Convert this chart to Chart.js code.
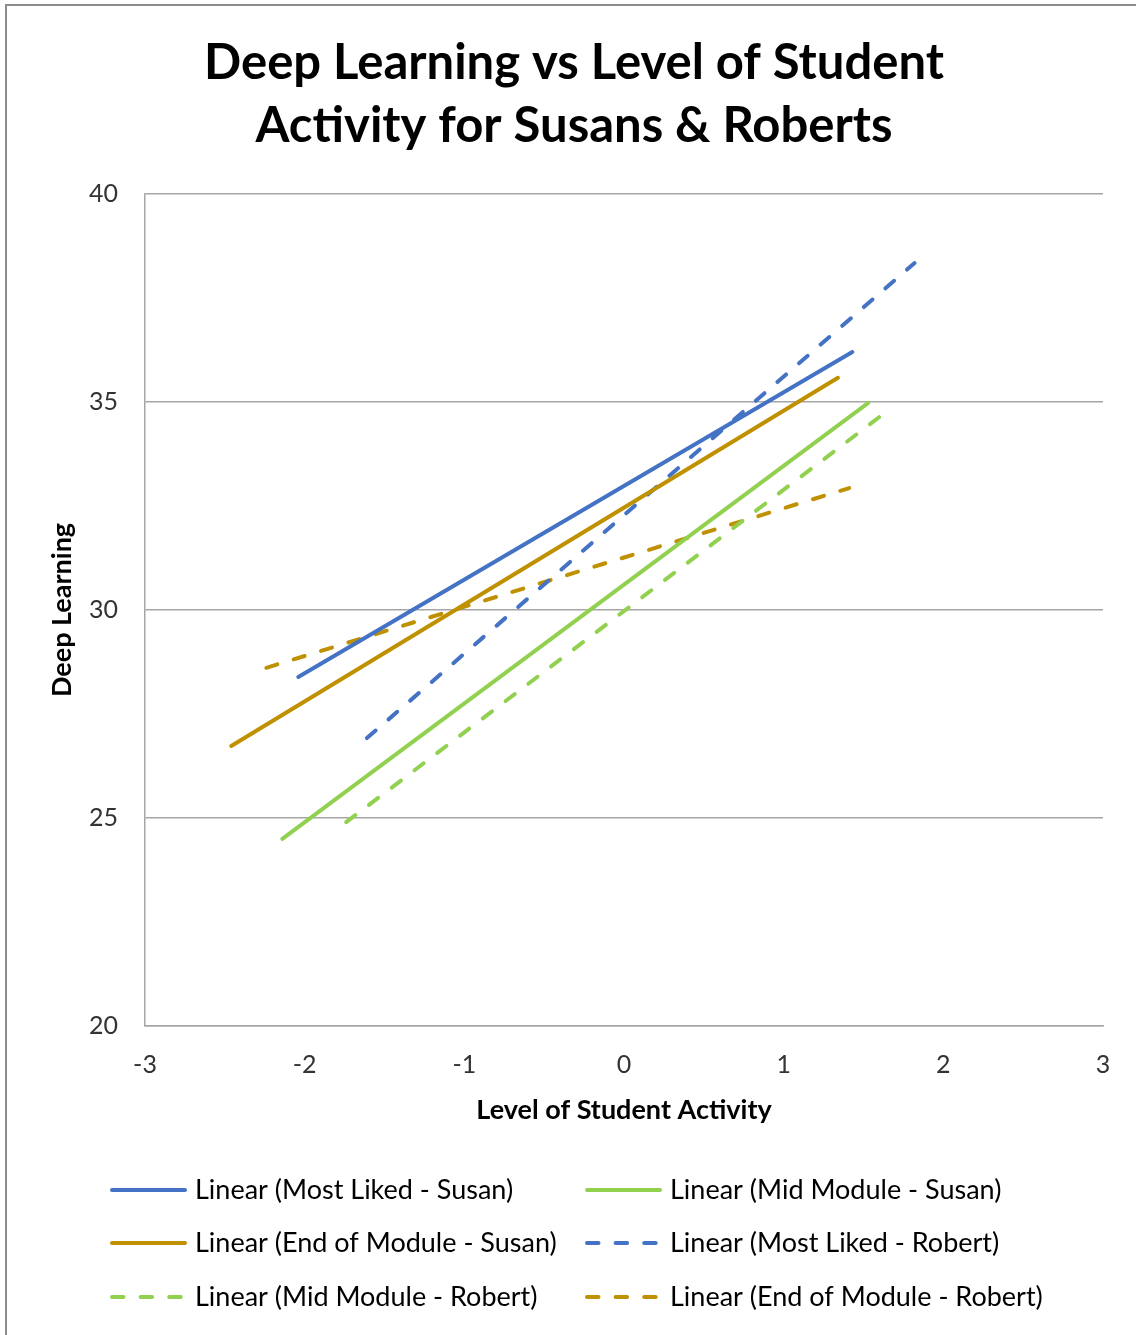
<!DOCTYPE html>
<html>
<head>
<meta charset="utf-8">
<title>Deep Learning vs Level of Student Activity</title>
<script src="https://cdn.jsdelivr.net/npm/chart.js@4/dist/chart.umd.min.js"></script>
<style>
  html, body { margin: 0; padding: 0; background: #fff; }
  #wrap { width: 1136px; height: 1335px; }
</style>
</head>
<body>
<div id="wrap"><canvas id="trendChart" width="1136" height="1335"></canvas></div>
<script>
// trend lines: start and end point of each fitted line
const seriesNames = [
  'Linear (Most Liked - Susan)',
  'Linear (Mid Module - Susan)',
  'Linear (End of Module - Susan)',
  'Linear (Most Liked - Robert)',
  'Linear (Mid Module - Robert)',
  'Linear (End of Module - Robert)'
];
const xStart = [-2.04, -2.14, -2.46, -1.61, -1.74, -2.24];
const yStart = [28.39, 24.50, 26.73, 26.92, 24.90, 28.61];
const xEnd   = [1.43, 1.53, 1.34, 1.82, 1.60, 1.41];
const yEnd   = [36.20, 34.98, 35.58, 38.34, 34.64, 32.93];

const xTicks = [-3, -2, -1, 0, 1, 2, 3];
const yTicks = [20, 25, 30, 35, 40];

// styles
const lineColors = ['#4472C4', '#92D050', '#BF9000', '#4472C4', '#92D050', '#BF9000'];
const dashed = [false, false, false, true, true, true];
const DASH = [11.5, 17.1];

const FONT = 'Lato, "Open Sans", sans-serif';

const datasets = seriesNames.map((name, i) => ({
  label: name,
  data: [{ x: xStart[i], y: yStart[i] }, { x: xEnd[i], y: yEnd[i] }],
  borderColor: lineColors[i],
  backgroundColor: lineColors[i],
  borderWidth: 4,
  borderCapStyle: 'round',
  borderDash: dashed[i] ? DASH : [],
  pointRadius: 0,
  showLine: true,
  fill: false
}));

// outer frame + white background
const framePlugin = {
  id: 'frame',
  beforeDraw(chart) {
    const ctx = chart.ctx;
    ctx.save();
    ctx.fillStyle = '#fff';
    ctx.fillRect(0, 0, chart.width, chart.height);
    ctx.strokeStyle = '#8c8c8c';
    ctx.lineWidth = 2;
    ctx.beginPath();
    ctx.moveTo(6, chart.height + 5);
    ctx.lineTo(6, 5);
    ctx.lineTo(chart.width + 5, 5);
    ctx.stroke();
    ctx.restore();
  }
};

// two-column legend under the plot
const legendPlugin = {
  id: 'gridLegend',
  afterDraw(chart) {
    const ctx = chart.ctx;
    const colX = [110, 585];
    const rowY = [1190, 1243, 1297];
    ctx.save();
    ctx.font = '27px ' + FONT;
    ctx.textBaseline = 'middle';
    chart.data.datasets.forEach((ds, i) => {
      const x = colX[i % 2];
      const y = rowY[Math.floor(i / 2)];
      ctx.strokeStyle = ds.borderColor;
      ctx.lineWidth = 4;
      ctx.lineCap = 'round';
      ctx.setLineDash(ds.borderDash);
      ctx.beginPath();
      ctx.moveTo(x + 2, y);
      ctx.lineTo(x + 75, y);
      ctx.stroke();
      ctx.setLineDash([]);
      ctx.fillStyle = '#000';
      ctx.fillText(ds.label, x + 85, y);
    });
    ctx.restore();
  }
};

new Chart(document.getElementById('trendChart'), {
  type: 'scatter',
  data: { datasets },
  plugins: [framePlugin, legendPlugin],
  options: {
    responsive: false,
    animation: false,
    layout: { padding: { left: 45, right: 33, top: 0, bottom: 195 } },
    plugins: {
      legend: { display: false },
      tooltip: { enabled: false },
      title: {
        display: true,
        text: ['Deep Learning vs Level of Student', 'Activity for Susans & Roberts'],
        color: '#000',
        font: { family: FONT, size: 49, weight: 'bold', lineHeight: 1.275 },
        padding: { top: 32, bottom: 37 }
      }
    },
    scales: {
      x: {
        type: 'linear',
        min: -3,
        max: 3,
        afterBuildTicks: s => { s.ticks = xTicks.map(v => ({ value: v })); },
        afterFit: s => { s.height = 114; },
        grid: { display: false, drawTicks: false },
        border: { display: true, color: '#a6a6a6', width: 1.5 },
        ticks: { color: '#333', font: { family: FONT, size: 25 }, padding: 24, maxRotation: 0 },
        title: {
          display: true,
          text: 'Level of Student Activity',
          color: '#000',
          font: { family: FONT, size: 27, weight: 'bold' },
          padding: { top: 0, bottom: 14 }
        }
      },
      y: {
        type: 'linear',
        min: 20,
        max: 40,
        afterBuildTicks: s => { s.ticks = yTicks.map(v => ({ value: v })); },
        afterFit: s => { s.width = 100; },
        grid: { color: '#a6a6a6', lineWidth: 1.5, drawTicks: false },
        border: { display: true, color: '#a6a6a6', width: 1.5 },
        ticks: { color: '#333', font: { family: FONT, size: 25 }, padding: 27 },
        title: {
          display: true,
          text: 'Deep Learning',
          color: '#000',
          font: { family: FONT, size: 27, weight: 'bold' },
          padding: { top: 1, bottom: 0 }
        }
      }
    }
  }
});
</script>
</body>
</html>
